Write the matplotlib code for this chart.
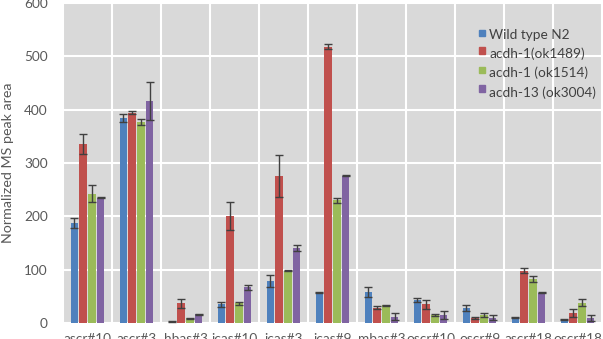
import matplotlib
matplotlib.use("Agg")
import matplotlib.pyplot as plt
import numpy as np
from matplotlib.patches import Rectangle

categories = ["ascr#10", "ascr#3", "hbas#3", "icas#10", "icas#3", "icas#9",
              "mbas#3", "oscr#10", "oscr#9", "ascr#18", "oscr#18"]
series_names = ["Wild type N2", "acdh-1(ok1489)", "acdh-1 (ok1514)", "acdh-13 (ok3004)"]

wild_type = [187, 384, 3, 35, 79, 57, 58, 43, 28, 10, 7]
wild_err = [9, 8, 1, 5, 11, 1, 10, 4, 6, 1, 1]
acdh1_1489 = [336, 394, 37, 200, 276, 518, 29, 35, 9, 98, 19]
acdh1_1489_err = [19, 3, 8, 26, 39, 5, 2, 9, 2, 5, 7]
acdh1_1514 = [242, 377, 9, 37, 98, 230, 33, 15, 15, 83, 38]
acdh1_1514_err = [16, 6, 1, 3, 1, 5, 1, 1, 4, 6, 7]
acdh13 = [235, 416, 16, 67, 141, 276, 12, 15, 10, 57, 9]
acdh13_err = [1, 36, 1, 5, 6, 1, 6, 7, 5, 1, 6]

values = [wild_type, acdh1_1489, acdh1_1514, acdh13]
errors = [wild_err, acdh1_1489_err, acdh1_1514_err, acdh13_err]
colors = ["#4F81BD", "#C0504D", "#9BBB59", "#8064A2"]

plt.rcParams['font.family'] = ['Lato', 'DejaVu Sans']
text_color = "#595959"

fig = plt.figure(figsize=(6.03, 3.39), dpi=100)
ax = fig.add_axes([63/603, 16/339, 539/603, 320/339])
ax.set_facecolor("#D9D9D9")

x = np.arange(len(categories))
pitch = 0.18
width = 0.153
for i, (vals, errs, col) in enumerate(zip(values, errors, colors)):
    pos = x + (i - 1.5) * pitch
    ax.bar(pos, vals, width=width, color=col, zorder=3)
    ax.errorbar(pos, vals, yerr=errs, fmt='none', ecolor="#404040",
                elinewidth=1.0, capsize=3, capthick=1.0, zorder=4)

ax.set_xlim(-0.5, len(categories) - 0.5)
ax.set_ylim(0, 600)
ax.set_yticks(range(0, 601, 100))
ax.set_xticks(x)
ax.set_xticklabels(categories)
ax.set_xticks(np.arange(-0.5, len(categories), 1), minor=True)
ax.grid(True, which='major', axis='y', color='white', linewidth=1.5, zorder=1)
ax.grid(True, which='minor', axis='x', color='white', linewidth=1.5, zorder=1)
ax.grid(False, which='major', axis='x')
ax.set_axisbelow(True)
for s in ax.spines.values():
    s.set_visible(False)
ax.tick_params(axis='both', which='both', length=0, colors=text_color, labelsize=9.8)
ax.tick_params(axis='y', pad=11)
ax.tick_params(axis='x', pad=7)
ax.set_ylabel("Normalized MS peak area", color=text_color, fontsize=10.3, labelpad=7)

# legend (manual, Excel-like)
sq_y = [33, 50.5, 70, 88.5]
tx_y = [35, 54, 73, 93]
for name, col, sy, ty in zip(series_names, colors, sq_y, tx_y):
    fig.patches.append(Rectangle(((482 - 3) / 603, 1 - (sy + 3) / 339), 6 / 603, 6 / 339,
                                 transform=fig.transFigure, color=col, zorder=5))
    fig.text(489 / 603, 1 - ty / 339, name, color="#404040", fontsize=9.8,
             ha='left', va='center', zorder=6)

fig.savefig("out.png", dpi=100, facecolor="white")
